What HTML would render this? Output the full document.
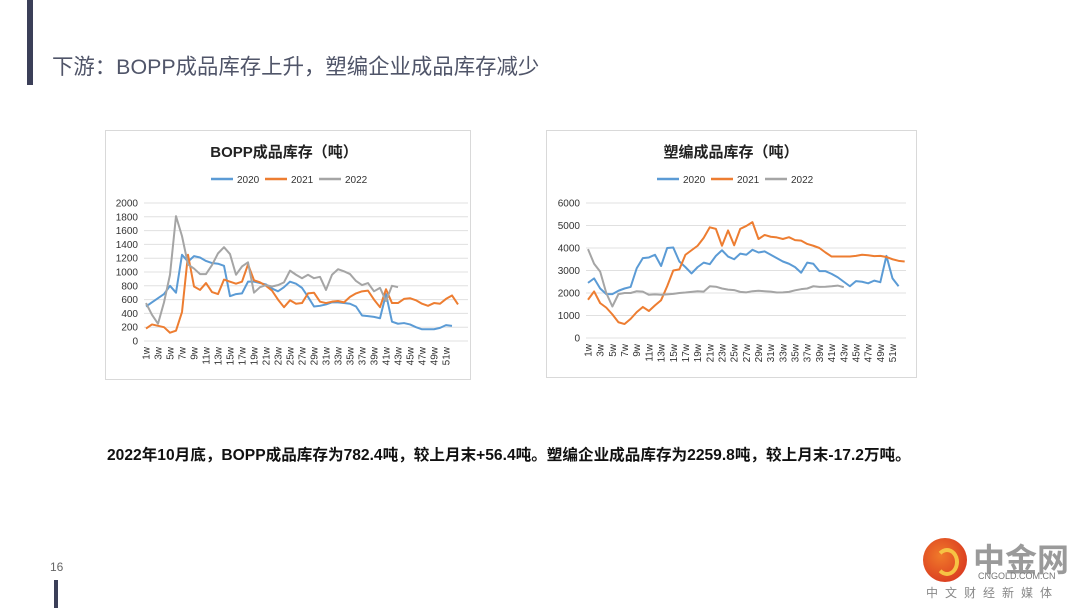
<!DOCTYPE html>
<html><head><meta charset="utf-8">
<style>
body{margin:0;width:1080px;height:608px;background:#fff;position:relative;overflow:hidden;font-family:"Liberation Sans","Noto Sans CJK SC",sans-serif;}
.abs{position:absolute;}
.chart{position:absolute;border:1px solid #d9d9d9;background:#fff;}
</style></head><body>
<div class="abs" style="left:27px;top:0;width:6px;height:85px;background:#3b3f58"></div>
<div class="abs" style="left:52px;top:50px;font-size:21.4px;color:#505569;white-space:nowrap">下游：BOPP成品库存上升，塑编企业成品库存减少</div>
<svg class="chart" id="c1" style="left:105px;top:130px" width="364" height="248"></svg>
<svg class="chart" id="c2" style="left:546px;top:130px" width="369" height="246"></svg>
<div class="abs" style="left:107px;top:443px;font-size:15.6px;font-weight:bold;color:#111;white-space:nowrap">2022年10月底，BOPP成品库存为782.4吨，较上月末+56.4吨。塑编企业成品库存为2259.8吨，较上月末-17.2万吨。</div>
<div class="abs" style="left:50px;top:560px;font-size:12px;color:#666">16</div>
<div class="abs" style="left:54px;top:580px;width:4px;height:28px;background:#3b3f58"></div>
<div class="abs" style="left:923px;top:538px;width:44px;height:44px;border-radius:50%;background:radial-gradient(circle at 40% 40%,#f07a2a,#d42a1e)"><div style="position:absolute;left:12px;top:10px;width:16px;height:20px;border-radius:50%;border:4px solid #f6c344;border-left-color:transparent"></div></div>
<div class="abs" style="left:973px;top:535px;font-size:32px;font-weight:bold;color:#9a9a9a;white-space:nowrap">中金网</div>
<div class="abs" style="left:978px;top:571px;font-size:9px;color:#777">CNGOLD.COM.CN</div>
<div class="abs" style="left:926px;top:584px;font-size:12px;color:#888;letter-spacing:7px;white-space:nowrap">中文财经新媒体</div>
<script>
const bopp2020=[500,560,620,680,800,700,1250,1150,1230,1210,1160,1130,1120,1090,650,680,690,860,860,840,820,760,720,780,860,830,770,640,500,510,530,560,560,550,540,500,370,360,350,330,680,280,250,260,240,200,170,170,170,190,230,220];
const bopp2021=[180,240,220,200,120,150,420,1250,790,740,840,710,680,890,860,830,860,1110,880,850,800,730,600,490,590,540,550,690,700,570,550,570,580,560,640,690,720,730,600,490,750,550,550,610,620,590,540,510,550,540,610,660,530];
const bopp2022=[550,380,250,560,960,1810,1520,1110,1050,970,970,1100,1270,1360,1260,960,1080,1140,700,780,810,790,810,850,1020,960,910,960,910,930,740,960,1040,1010,970,870,810,840,720,770,580,800,780];
const sb2020=[2450,2650,2200,1950,1950,2100,2200,2270,3100,3550,3580,3700,3200,4000,4020,3400,3150,2870,3150,3350,3280,3650,3900,3620,3500,3750,3700,3920,3800,3850,3700,3550,3400,3300,3150,2900,3350,3300,2970,2970,2850,2700,2500,2300,2530,2500,2430,2550,2480,3650,2650,2300];
const sb2021=[1700,2070,1550,1350,1050,700,620,850,1150,1380,1200,1450,1680,2300,3000,3050,3700,3900,4100,4450,4920,4850,4100,4780,4120,4850,4980,5150,4400,4580,4500,4470,4400,4480,4350,4330,4180,4100,4000,3800,3620,3620,3620,3620,3650,3700,3680,3640,3650,3600,3500,3430,3400];
const sb2022=[3950,3300,2950,2000,1400,1950,2000,2000,2080,2060,1920,1940,1920,1940,1960,2000,2020,2050,2080,2060,2300,2280,2200,2150,2130,2050,2030,2080,2100,2080,2060,2020,2030,2050,2120,2170,2200,2300,2270,2280,2300,2330,2260];
const bTicks=[0,200,400,600,800,1000,1200,1400,1600,1800,2000];
const sTicks=[0,1000,2000,3000,4000,5000,6000];
const years=['2020','2021','2022'];
const colors=['#5b9bd5','#ed7d31','#a5a5a5'];
const NS='http://www.w3.org/2000/svg';
function mk(svg,tag,attrs){const e=document.createElementNS(NS,tag);for(const k in attrs)e.setAttribute(k,attrs[k]);svg.appendChild(e);return e;}
function draw(id,title,series,ticks,cfg){
 const svg=document.getElementById(id);
 const maxV=ticks[ticks.length-1];
 const y=v=>cfg.y0-(v/maxV)*(cfg.y0-cfg.yTop);
 const x=i=>cfg.x1+i*cfg.dx;
 let t=mk(svg,'text',{x:cfg.tx,y:26,'font-size':15,'font-weight':'bold',fill:'#222','text-anchor':'middle'});t.textContent=title;
 
 years.forEach((yr,k)=>{const lx=cfg.lx+k*54;
  let l=mk(svg,'line',{x1:lx,y1:48,x2:lx+22,y2:48,stroke:colors[k],'stroke-width':2.5});
  
  let lt=mk(svg,'text',{x:lx+26,y:52,'font-size':10,fill:'#333'});lt.textContent=yr;
  });
 ticks.forEach(v=>{let g=mk(svg,'line',{x1:cfg.gx0,x2:cfg.gx1,y1:y(v),y2:y(v),stroke:'#e0e0e0','stroke-width':1});
  
  let tl=mk(svg,'text',{x:cfg.gx0-6,y:y(v)+3.5,'font-size':10,fill:'#333','text-anchor':'end'});tl.textContent=v;
  });
 for(let w=1;w<=51;w+=2){let xl=mk(svg,'text',{'font-size':10,fill:'#333','text-anchor':'end',transform:`translate(${x(w-1)+3.5},${cfg.y0+6}) rotate(-90)`});xl.textContent=w+'w';
  }
 series.forEach((s,k)=>{const p=mk(svg,'polyline',{points:s.map((v,i)=>x(i)+','+y(v)).join(' '),fill:'none',stroke:colors[k],'stroke-width':2,'stroke-linejoin':'round'});
  });
}
draw('c1','BOPP成品库存（吨）',[bopp2020,bopp2021,bopp2022],bTicks,{y0:210,yTop:72,x1:40,dx:6,gx0:38,gx1:362,tx:178,lx:105});
draw('c2','塑编成品库存（吨）',[sb2020,sb2021,sb2022],sTicks,{y0:207,yTop:72,x1:41,dx:6.09,gx0:39,gx1:359,tx:184,lx:110});
</script>
</body></html>
